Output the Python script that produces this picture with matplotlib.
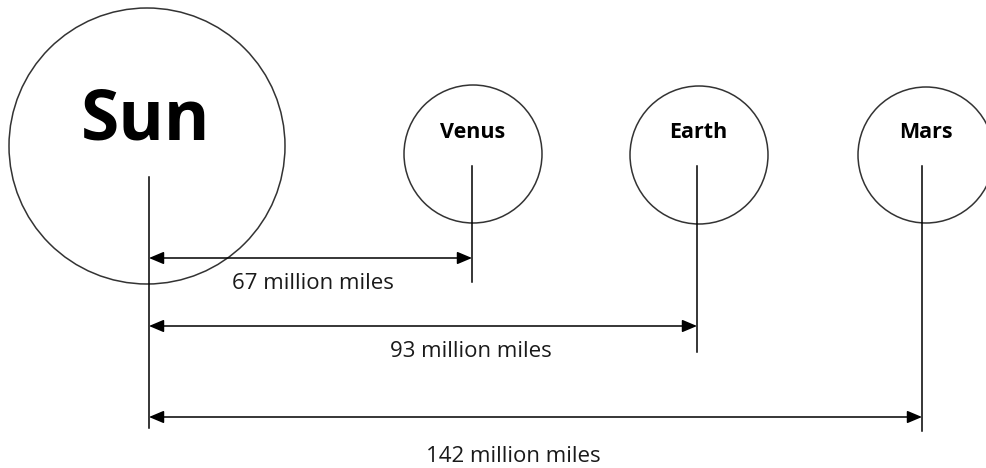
import matplotlib
matplotlib.use('Agg')
import matplotlib.pyplot as plt
from matplotlib.patches import Circle

# Diagram data (pixel layout of the reference)
bodies = ['Sun', 'Venus', 'Earth', 'Mars']
center_x = [147, 473, 699, 926]
center_y = [146, 154, 155, 155]
radius = [138, 69, 69, 68]
label_x = [146, 473, 698, 926]
label_base = [140, 138, 138, 138]
label_size = [50, 15.5, 15.5, 15.5]

# vertical guide lines
line_x = [149, 472, 697, 922]
line_top = [177, 166, 166, 166]
line_bottom = [428, 282, 352, 431]

# distance arrows
distances = ['67 million miles', '93 million miles', '142 million miles']
arrow_y = [258, 326, 417]
arrow_end = [472, 697, 922]
dist_label_x = [313, 471, 513]
dist_label_base = [289, 357, 462]

fig = plt.figure(figsize=(9.86, 4.68), dpi=100)
ax = fig.add_axes([0, 0, 1, 1])
ax.set_xlim(0, 986)
ax.set_ylim(468, 0)
ax.set_aspect('equal')
ax.axis('off')

font = ['Open Sans', 'DejaVu Sans']

for cx, cy, r in zip(center_x, center_y, radius):
    ax.add_patch(Circle((cx, cy), r, fill=False, edgecolor='#333333', linewidth=1.1))

for name, lx, lb, fs in zip(bodies, label_x, label_base, label_size):
    ax.text(lx, lb, name, ha='center', va='baseline', fontsize=fs,
            fontweight='bold', family=font, color='black')

for x, t, b in zip(line_x, line_top, line_bottom):
    ax.plot([x, x], [t, b], color='black', linewidth=1.1)

for y, xe, txt, tx, tb in zip(arrow_y, arrow_end, distances, dist_label_x, dist_label_base):
    ax.annotate('', xy=(xe, y), xytext=(line_x[0], y),
                arrowprops=dict(arrowstyle='<|-|>,head_length=0.9,head_width=0.38',
                                color='black', linewidth=1.1,
                                shrinkA=0, shrinkB=0))
    ax.text(tx, tb, txt, ha='center', va='baseline', fontsize=16,
            family=font, color='#1a1a1a')

fig.savefig('out.png', dpi=100)
